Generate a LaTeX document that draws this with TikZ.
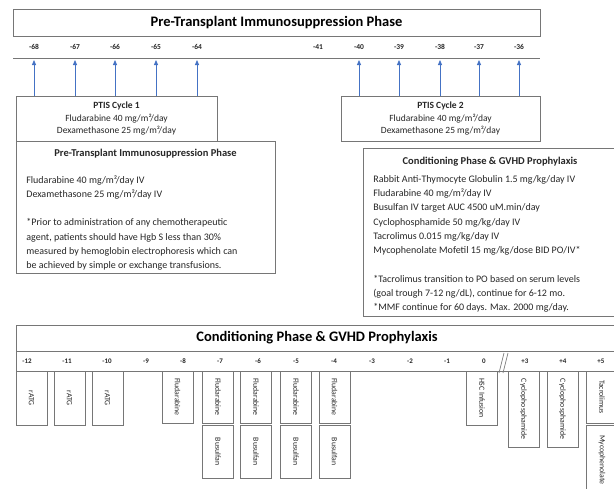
\documentclass[tikz,border=0pt]{standalone}
\usepackage{fontspec}
\setmainfont{Carlito}
\usepackage{graphicx}
\usetikzlibrary{arrows.meta,positioning}
\definecolor{linegray}{HTML}{767676}
\definecolor{arrowblue}{HTML}{4472C4}
\definecolor{inkgray}{HTML}{262626}

\begin{document}
\begin{tikzpicture}[x=1pt, y=-1pt, line width=0.7pt, text=inkgray,
  frame/.style={draw=linegray, inner sep=0pt, outer sep=0pt, anchor=north west},
  day/.style={font=\bfseries\fontsize{7.5}{9}\selectfont},
  head/.style={font=\bfseries\fontsize{10.5}{12}\selectfont},
  title/.style={font=\bfseries\fontsize{14.5}{17}\selectfont, text=black},
  body/.style={font=\fontsize{10}{14.3}\selectfont, align=left, inner sep=0pt, anchor=north west},
  cycle/.style={frame, minimum width=200pt, minimum height=45pt, align=center, font=\fontsize{9.5}{12.5}\selectfont},
  col/.style={draw=linegray, inner sep=0pt, outer sep=0pt, anchor=north, minimum width=31pt, font=\fontsize{7.8}{9}\selectfont},
  arr/.style={-{Triangle[length=5pt,width=4pt]}, draw=arrowblue, line width=0.8pt}]
\useasboundingbox (0,0) rectangle (614,488);

% pre-transplant timeline
\node[frame, minimum width=527pt, minimum height=27pt] (pretop) at (13,9) {};
\node[title] (pretitle) at (pretop.center) {Pre-Transplant Immunosuppression Phase};
\coordinate (preleft) at (13,58);
\coordinate (preright) at (540,58);
\draw[linegray] (preleft) -- (preright);
\foreach \d/\x [count=\i] in {-68/34,-67/75,-66/115,-65/156,-64/197,-41/318,-40/359,-39/399,-38/440,-37/479,-36/519}{
  \node[day] (day\i) at (\x,47) {\d};
  \coordinate (tick\i) at (\x,60);
}

\node[cycle, minimum width=201pt] (cyc1) at (16,96) {\textbf{PTIS Cycle 1}\\Fludarabine 40 mg/m²/day\\Dexamethasone 25 mg/m²/day};
\node[cycle, minimum width=199pt] (cyc2) at (341,96) {\textbf{PTIS Cycle 2}\\Fludarabine 40 mg/m²/day\\Dexamethasone 25 mg/m²/day};
\foreach \i in {1,...,5} \draw[arr] (cyc1.north -| tick\i) -- (tick\i);
\foreach \i in {7,...,11} \draw[arr] (cyc2.north -| tick\i) -- (tick\i);

% phase descriptions
\node[frame, minimum width=259pt, minimum height=132pt] (ptibox) at (16,141) {};
\node[head] (ptihead) at (145.5,154) {Pre-Transplant Immunosuppression Phase};
\node[body] (ptibody) at (26,175) {Fludarabine 40 mg/m²/day IV\\
Dexamethasone 25 mg/m²/day IV\\[14.3pt]
*Prior to administration of any chemotherapeutic\\
agent, patients should have Hgb S less than 30\%\\
measured by hemoglobin electrophoresis which can\\
be achieved by simple or exchange transfusions.};

\node[frame, minimum width=260pt, minimum height=168pt] (condbox) at (363,148) {};
\node[head] (condhead) at (490,162) {Conditioning Phase \& GVHD Prophylaxis};
\node[body] (condbody) at (373,175) {Rabbit Anti-Thymocyte Globulin 1.5 mg/kg/day IV\\
Fludarabine 40 mg/m²/day IV\\
Busulfan IV target AUC 4500 uM.min/day\\
Cyclophosphamide 50 mg/kg/day IV\\
Tacrolimus 0.015 mg/kg/day IV\\
Mycophenolate Mofetil 15 mg/kg/dose BID PO/IV*\\[14.3pt]
*Tacrolimus transition to PO based on serum levels\\
(goal trough 7-12 ng/dL), continue for 6-12 mo.\\
*MMF continue for 60 days. Max. 2000 mg/day.};

% conditioning timeline
\node[frame, minimum width=610pt, minimum height=46pt] (condtop) at (16,325) {};
\node[title] (condtitle) at (317,338) {Conditioning Phase \& GVHD Prophylaxis};
\draw[linegray] (condtop.west |- 0,351) -- (condtop.east |- 0,351);
\foreach \d/\x [count=\i] in {-12/27,-11/67,-10/107,-9/146,-8/183,-7/220,-6/258,-5/296,-4/334,-3/372,-2/410,-1/447,0/484,+3/525,+4/563,+5/601}
  \node[day, font=\bfseries\fontsize{7}{8}\selectfont] (cday\i) at (\x,361) {\d};
\coordinate (gapa) at (499,373);
\coordinate (gapb) at (504,353);
\coordinate (gapc) at (503,373);
\coordinate (gapd) at (508,353);
\draw[linegray] (gapa) -- (gapb) (gapc) -- (gapd);

\foreach \x [count=\i] in {31.5,69.5,107.5}
  \node[col, minimum height=54pt] (ratg\i) at (\x,371) {\rotatebox{-90}{rATG}};
\node[col, minimum height=52pt] (flu1) at (177.5,371) {\rotatebox{-90}{Fludarabine}};
\foreach \x [count=\i from 2] in {218,256,296,334.5}{
  \node[col, minimum height=52pt] (flu\i) at (\x,371) {\rotatebox{-90}{Fludarabine}};
  \node[col, minimum height=53pt] (bu\i) at (\x,425) {\rotatebox{-90}{Busulfan}};
}
\node[col, minimum height=54pt] (hsc) at (482,371) {\rotatebox{-90}{HSC Infusion}};
\node[col, minimum height=76pt] (cy1) at (523.5,371) {\rotatebox{-90}{Cyclophosphamide}};
\node[col, minimum height=76pt] (cy2) at (562.5,371) {\rotatebox{-90}{Cyclophosphamide}};
\node[col, minimum height=52pt] (tac) at (602,371) {\rotatebox{-90}{Tacrolimus}};
\node[col, minimum height=70pt] (mmf) at (602,425) {\rotatebox{-90}{Mycophenolate}};
\end{tikzpicture}
\end{document}
